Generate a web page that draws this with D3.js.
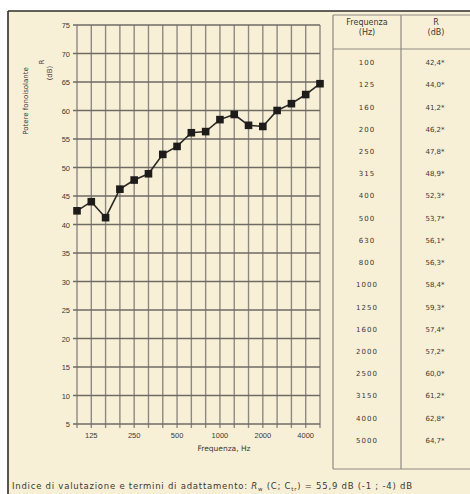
<!DOCTYPE html>
<html>
<head>
<meta charset="utf-8">
<script src="https://cdn.jsdelivr.net/npm/d3@7"></script>
<style>
  body { margin: 0; background: #fff; }
  svg { display: block; font-family: "DejaVu Sans", Verdana, sans-serif; }
</style>
</head>
<body>
<div id="chart"></div>
<script>
// 1/3 octave frequencies (Hz) and sound reduction index R (dB)
var freqs = ["100","125","160","200","250","315","400","500","630","800","1000","1250","1600","2000","2500","3150","4000","5000"];
var rValues = [42.4, 44.0, 41.2, 46.2, 47.8, 48.9, 52.3, 53.7, 56.1, 56.3, 58.4, 59.3, 57.4, 57.2, 60.0, 61.2, 62.8, 64.7];
var xTickLabels = ["125","250","500","1000","2000","4000"];
var yTicks = [5,10,15,20,25,30,35,40,45,50,55,60,65,70,75];
var footText = ["Indice di valutazione e termini di adattamento: ", "R", "w", " (C; C", "tr", ") =  55,9 dB  (-1 ; -4)  dB"];

var width = 470, height = 494;
var textCol = "#3a3834";
var narrow = "'Liberation Sans', Arial, sans-serif";

var svg = d3.select("#chart").append("svg")
  .attr("width", width)
  .attr("height", height);

// cream paper + frame
svg.append("rect").attr("x", 8).attr("y", 11).attr("width", width - 8).attr("height", height - 11)
  .attr("fill", "#f8f0d6");
svg.append("line").attr("x1", 8).attr("x2", width).attr("y1", 11).attr("y2", 11)
  .attr("stroke", "#2e2c28").attr("stroke-width", 1.6);
svg.append("line").attr("x1", 8).attr("x2", 8).attr("y1", 11).attr("y2", height)
  .attr("stroke", "#2e2c28").attr("stroke-width", 1.6);

var x = d3.scalePoint().domain(freqs).range([77, 320]);
var y = d3.scaleLinear().domain([5, 75]).range([424, 25]);

var plot = svg.append("g");

// vertical grid (one per 1/3 octave)
plot.selectAll("line.vg").data(freqs).enter().append("line")
  .attr("class", "vg")
  .attr("x1", function(d) { return x(d); })
  .attr("x2", function(d) { return x(d); })
  .attr("y1", y(75))
  .attr("y2", y(5) + 4)
  .attr("stroke", "#8d8982")
  .attr("stroke-width", 1.4);

// horizontal grid every 5 dB
plot.selectAll("line.hg").data(yTicks).enter().append("line")
  .attr("class", "hg")
  .attr("x1", x(freqs[0]) - 4)
  .attr("x2", x(freqs[freqs.length - 1]))
  .attr("y1", function(d) { return y(d); })
  .attr("y2", function(d) { return y(d); })
  .attr("stroke", "#6f6b64")
  .attr("stroke-width", 1.4);

// y tick labels
plot.selectAll("text.yl").data(yTicks).enter().append("text")
  .attr("class", "yl")
  .attr("x", 70)
  .attr("y", function(d) { return y(d) + 3; })
  .attr("text-anchor", "end")
  .attr("font-family", narrow)
  .attr("font-size", 7.5)
  .attr("fill", textCol)
  .text(function(d) { return d; });

// x tick labels
plot.selectAll("text.xl").data(xTickLabels).enter().append("text")
  .attr("class", "xl")
  .attr("x", function(d) { return x(d); })
  .attr("y", 438)
  .attr("text-anchor", "middle")
  .attr("font-family", narrow)
  .attr("font-size", 7.5)
  .attr("fill", textCol)
  .text(function(d) { return d; });

plot.append("text")
  .attr("x", 224).attr("y", 451)
  .attr("text-anchor", "middle")
  .attr("font-size", 7.5)
  .attr("fill", textCol)
  .text("Frequenza, Hz");

// y axis title (rotated)
var yt = [["Potere fonoisolante", 28, 101], ["R", 44, 62], ["(dB)", 52, 73]];
svg.selectAll("text.yt").data(yt).enter().append("text")
  .attr("class", "yt")
  .attr("transform", function(d) { return "translate(" + d[1] + "," + d[2] + ") rotate(-90)"; })
  .attr("text-anchor", "middle")
  .attr("font-size", 7)
  .attr("fill", textCol)
  .text(function(d) { return d[0]; });

// data line + square markers
var pts = freqs.map(function(f, i) { return { f: f, v: rValues[i] }; });
var line = d3.line().x(function(d) { return x(d.f); }).y(function(d) { return y(d.v); });
plot.append("path").datum(pts)
  .attr("d", line)
  .attr("fill", "none")
  .attr("stroke", "#2a2826")
  .attr("stroke-width", 1.6);
plot.selectAll("rect.pt").data(pts).enter().append("rect")
  .attr("class", "pt")
  .attr("x", function(d) { return x(d.f) - 3.8; })
  .attr("y", function(d) { return y(d.v) - 3.8; })
  .attr("width", 7.6).attr("height", 7.6)
  .attr("fill", "#1e1c1a");

// table
var tL = 333, tM = 401, tT = 15, tH = 49, tB = 469;
var row = d3.scaleBand().domain(freqs).range([51, 451]);
var tbl = svg.append("g").attr("stroke", "#8d8982").attr("stroke-width", 1.2);
tbl.append("line").attr("x1", tL).attr("x2", width).attr("y1", tT).attr("y2", tT);
tbl.append("line").attr("x1", tL).attr("x2", width).attr("y1", tH).attr("y2", tH);
tbl.append("line").attr("x1", tL).attr("x2", width).attr("y1", tB).attr("y2", tB);
tbl.append("line").attr("x1", tL).attr("x2", tL).attr("y1", tT).attr("y2", tB);
tbl.append("line").attr("x1", tM).attr("x2", tM).attr("y1", tT).attr("y2", tB);

var hdr = [["Frequenza", 367, 25], ["(Hz)", 367, 35], ["R", 436, 25], ["(dB)", 436, 35]];
svg.selectAll("text.hd").data(hdr).enter().append("text")
  .attr("class", "hd")
  .attr("x", function(d) { return d[1]; })
  .attr("y", function(d) { return d[2]; })
  .attr("text-anchor", "middle")
  .attr("font-size", 8)
  .attr("fill", textCol)
  .text(function(d) { return d[0]; });

var fmt = d3.format(".1f");
svg.selectAll("text.tf").data(pts).enter().append("text")
  .attr("class", "tf")
  .attr("x", 367)
  .attr("y", function(d) { return row(d.f) + row.bandwidth() / 2 + 3; })
  .attr("text-anchor", "middle")
  .attr("font-size", 7)
  .attr("letter-spacing", 1)
  .attr("fill", textCol)
  .text(function(d) { return d.f; });
svg.selectAll("text.tv").data(pts).enter().append("text")
  .attr("class", "tv")
  .attr("x", 435)
  .attr("y", function(d) { return row(d.f) + row.bandwidth() / 2 + 3; })
  .attr("text-anchor", "middle")
  .attr("font-size", 7)
  .attr("fill", textCol)
  .text(function(d) { return fmt(d.v).replace(".", ",") + "*"; });

// footer
var foot = svg.append("text")
  .attr("x", 12).attr("y", 489)
  .attr("font-size", 8.5)
  .attr("textLength", 400)
  .attr("lengthAdjust", "spacing")
  .attr("fill", textCol);
footText.forEach(function(t, i) {
  var ts = foot.append("tspan").text(t);
  if (t === "R") ts.attr("font-style", "italic");
  if (t === "w" || t === "tr") ts.attr("font-size", 5.5).attr("dy", 1.5);
  else if (i > 0 && (footText[i - 1] === "w" || footText[i - 1] === "tr")) ts.attr("dy", -1.5);
});
</script>
</body>
</html>
